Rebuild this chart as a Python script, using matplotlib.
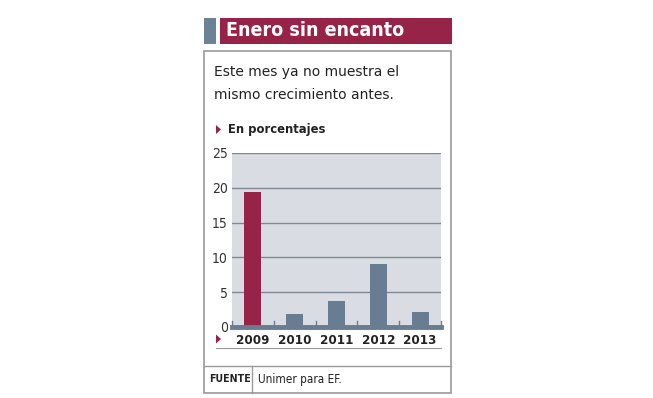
import matplotlib
matplotlib.use("Agg")
import matplotlib.pyplot as plt
from matplotlib.patches import Rectangle, Polygon
from matplotlib.lines import Line2D

# data
years = ["2009", "2010", "2011", "2012", "2013"]
values = [19.4, 1.9, 3.75, 9.1, 2.2]
yticks = [0, 5, 10, 15, 20, 25]

title = "Enero sin encanto"
subtitle = ["Este mes ya no muestra el", "mismo crecimiento antes."]
unit = "En porcentajes"
source_lbl = "FUENTE"
source_txt = "Unimer para EF."

red = "#982349"
slate = "#687d92"
bg = "#d9dde3"
grid_c = "#7f8893"
frame_c = "#9a9a9a"

W, H = 653, 398
cond = dict(family="DejaVu Sans", stretch="condensed")


def fx(x):
    return x / W


def fy(y):
    return 1 - y / H


fig = plt.figure(figsize=(W / 100, H / 100), dpi=100)

# title bar
fig.patches.append(Rectangle((fx(204), fy(44)), fx(12), 26 / H, transform=fig.transFigure,
                             facecolor="#6e8296", edgecolor="none"))
fig.patches.append(Rectangle((fx(220), fy(44)), fx(232), 26 / H, transform=fig.transFigure,
                             facecolor=red, edgecolor="none"))
fig.text(fx(226), fy(31), title, color="white", fontsize=14, fontweight="bold",
         va="center", ha="left", **cond)

# outer box
fig.patches.append(Rectangle((fx(204), fy(393)), fx(247), 342 / H, transform=fig.transFigure,
                             facecolor="none", edgecolor=frame_c, linewidth=1.2))
fig.lines.append(Line2D([fx(204), fx(451)], [fy(366), fy(366)], transform=fig.transFigure,
                        color=frame_c, linewidth=1.0))
fig.lines.append(Line2D([fx(252), fx(252)], [fy(366), fy(393)], transform=fig.transFigure,
                        color=frame_c, linewidth=1.0))
fig.text(fx(209), fy(379), source_lbl, fontsize=7.6, fontweight="bold",
         color="#222222", va="center", **cond)
fig.text(fx(258), fy(379), source_txt, fontsize=8.5, color="#222222", va="center", **cond)

# subtitle
fig.text(fx(214), fy(76), subtitle[0], fontsize=10, color="#222222", va="baseline")
fig.text(fx(214), fy(99), subtitle[1], fontsize=10, color="#222222", va="baseline")

# unit label with marker
fig.patches.append(Polygon([[fx(216), fy(125)], [fx(216), fy(134)], [fx(221), fy(129.5)]],
                           closed=True, transform=fig.transFigure, facecolor=red, edgecolor="none"))
fig.text(fx(228), fy(130), unit, fontsize=9.3, fontweight="bold",
         color="#222222", va="center", **cond)

# chart
ax = fig.add_axes([fx(232), fy(327), fx(441) - fx(232), (327 - 153) / H])
ax.set_facecolor(bg)
x = list(range(len(years)))
colors = [red] + [slate] * (len(years) - 1)
ax.bar(x, values, width=0.41, color=colors, zorder=3)
ax.set_xlim(-0.5, len(years) - 0.5)
ax.set_ylim(0, 25)
ax.set_yticks(yticks)
ax.set_yticklabels([str(t) for t in yticks], fontsize=10, color="#333333", **cond)
for t in yticks[1:]:
    ax.axhline(t, color=grid_c, linewidth=1.0, zorder=2)
ax.axhline(0, color=slate, linewidth=3.5, zorder=4, clip_on=False)
for b in [i - 0.5 for i in range(len(years) + 1)]:
    ax.plot([b, b], [0, 0.8], color=slate, linewidth=1.0, zorder=4, clip_on=False)
for s in ax.spines.values():
    s.set_visible(False)
ax.tick_params(axis="y", length=0, pad=3)
ax.set_xticks(x)
ax.set_xticklabels(years, fontsize=9.5, fontweight="bold", color="#222222", **cond)
ax.tick_params(axis="x", length=0, pad=5)

# marker and rule under years
fig.patches.append(Polygon([[fx(216), fy(334.5)], [fx(216), fy(343.5)], [fx(221), fy(339)]],
                           closed=True, transform=fig.transFigure, facecolor=red, edgecolor="none"))
fig.lines.append(Line2D([fx(216), fx(441)], [fy(348), fy(348)], transform=fig.transFigure,
                        color=frame_c, linewidth=0.8))

fig.savefig("out.png", dpi=100)
